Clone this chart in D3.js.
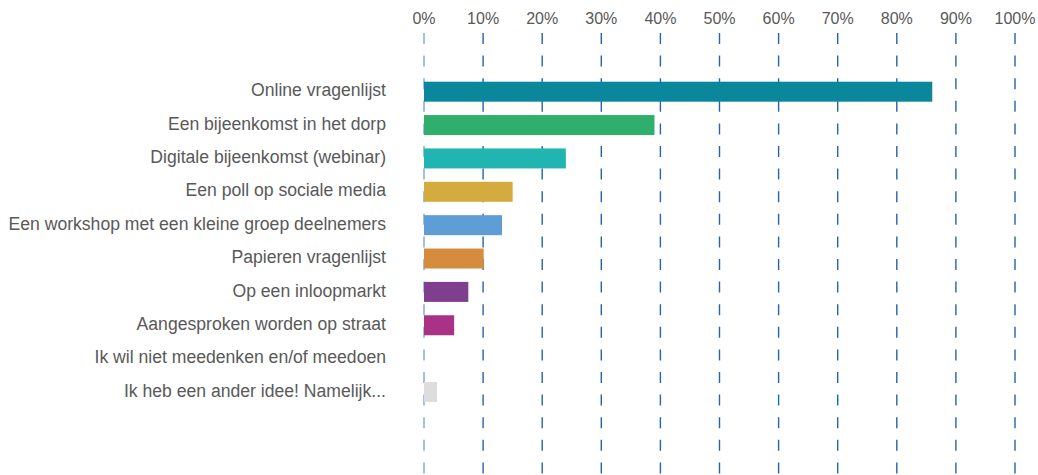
<!DOCTYPE html>
<html>
<head>
<meta charset="utf-8">
<script src="https://cdn.jsdelivr.net/npm/d3@7"></script>
<style>
  html, body { margin: 0; padding: 0; background: #ffffff; }
  svg { display: block; }
  text { font-family: "Liberation Sans", Arial, sans-serif; }
</style>
</head>
<body>
<div id="chart"></div>
<script>
// 数据
const categories = [
    "Online vragenlijst",
    "Een bijeenkomst in het dorp",
    "Digitale bijeenkomst (webinar)",
    "Een poll op sociale media",
    "Een workshop met een kleine groep deelnemers",
    "Papieren vragenlijst",
    "Op een inloopmarkt",
    "Aangesproken worden op straat",
    "Ik wil niet meedenken en/of meedoen",
    "Ik heb een ander idee! Namelijk..."
];
const values = [86, 39, 24, 15, 13.2, 10.1, 7.5, 5.1, 0, 2.2];
const barColors = ["#0b879b", "#30ae6c", "#20b5b0", "#d4ab3f", "#5e9dd5", "#d68c3d", "#7f3f8e", "#aa3286", "#cccccc", "#dddddd"];
const ticks = [0, 10, 20, 30, 40, 50, 60, 70, 80, 90, 100];

const width = 1038, height = 475;

const svg = d3.select("#chart")
    .append("svg")
    .attr("width", width)
    .attr("height", height)
    .attr("viewBox", `0 0 ${width} ${height}`);

// 比例尺
const x = d3.scaleLinear().domain([0, 100]).range([424, 1015]);
const y = d3.scalePoint().domain(categories).range([91.7, 392]);
const barHeight = 20;

// 网格线（虚线）
svg.append("g")
    .selectAll("line")
    .data(ticks)
    .enter()
    .append("line")
    .attr("class", "axis")
    .attr("x1", d => x(d))
    .attr("x2", d => x(d))
    .attr("y1", 33)
    .attr("y2", height)
    .attr("stroke", d => d === 0 ? "#7ea6d1" : "#2563aa")
    .attr("stroke-width", 1.4)
    .attr("stroke-dasharray", "11,11.6");

// 刻度标签
svg.append("g")
    .selectAll("text")
    .data(ticks)
    .enter()
    .append("text")
    .attr("class", "value")
    .attr("x", d => x(d))
    .attr("y", 20)
    .attr("text-anchor", "middle")
    .attr("dominant-baseline", "middle")
    .attr("font-size", "16px")
    .attr("fill", "#595959")
    .text(d => d + "%");

// 条形
svg.append("g")
    .selectAll("rect")
    .data(categories)
    .enter()
    .append("rect")
    .attr("class", "mark")
    .attr("x", x(0))
    .attr("y", d => y(d) - barHeight / 2)
    .attr("width", (d, i) => x(values[i]) - x(0))
    .attr("height", barHeight)
    .attr("fill", (d, i) => barColors[i]);

// 类别标签
svg.append("g")
    .selectAll("text")
    .data(categories)
    .enter()
    .append("text")
    .attr("class", "label")
    .attr("x", 386)
    .attr("y", d => y(d))
    .attr("text-anchor", "end")
    .attr("dominant-baseline", "middle")
    .attr("font-size", "17.6px")
    .attr("fill", "#595959")
    .text(d => d);
</script>
</body>
</html>
